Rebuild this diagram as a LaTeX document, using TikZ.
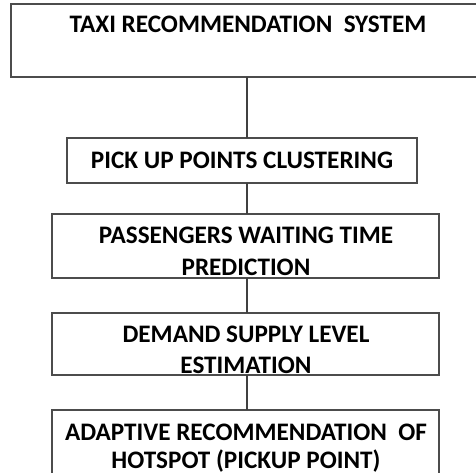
\documentclass[tikz,border=0pt]{standalone}
\usepackage{fontspec}
\setmainfont{Carlito}
\begin{document}
\begin{tikzpicture}[x=1pt,y=-1pt,
  box/.style={draw=black!70,line width=1.2pt},
  lbl/.style={font=\fontsize{25.2}{30}\selectfont\bfseries,inner sep=0pt,anchor=base},
  conn/.style={draw=black!75,line width=1.1pt}]
\useasboundingbox (0,0) rectangle (476,473);
\fill[white] (0,0) rectangle (476,473);
% boxes
\coordinate (b1tl) at (11,4);   \coordinate (b1br) at (482,77);
\coordinate (b2tl) at (67,138); \coordinate (b2br) at (417,183);
\coordinate (b3tl) at (52,214); \coordinate (b3br) at (439,278);
\coordinate (b4tl) at (52,313); \coordinate (b4br) at (439,375);
\coordinate (b5tl) at (52,410); \coordinate (b5br) at (439,482);
\draw[box] (b1tl) rectangle (b1br);
\draw[box] (b2tl) rectangle (b2br);
\draw[box] (b3tl) rectangle (b3br);
\draw[box] (b4tl) rectangle (b4br);
\draw[box] (b5tl) rectangle (b5br);
% texts
\node[lbl] (t1) at (248,33) {TAXI RECOMMENDATION\ \ SYSTEM};
\node[lbl] (t2) at (242,168) {PICK UP POINTS CLUSTERING};
\node[lbl] (t3a) at (246,243) {PASSENGERS WAITING TIME};
\node[lbl] (t3b) at (246,275) {PREDICTION};
\node[lbl] (t4a) at (246,342) {DEMAND SUPPLY LEVEL};
\node[lbl] (t4b) at (246,373) {ESTIMATION};
\node[lbl] (t5a) at (246,440) {ADAPTIVE RECOMMENDATION\ \ OF};
\node[lbl] (t5b) at (246,468) {HOTSPOT (PICKUP POINT)};
% connectors
\coordinate (c1) at (247,77);  \coordinate (c2) at (247,138);
\coordinate (c3) at (247,183); \coordinate (c4) at (247,214);
\coordinate (c5) at (247,278); \coordinate (c6) at (247,313);
\coordinate (c7) at (247,375); \coordinate (c8) at (247,410);
\draw[conn] (c1) -- (c2);
\draw[conn] (c3) -- (c4);
\draw[conn] (c5) -- (c6);
\draw[conn] (c7) -- (c8);
\end{tikzpicture}
\end{document}
